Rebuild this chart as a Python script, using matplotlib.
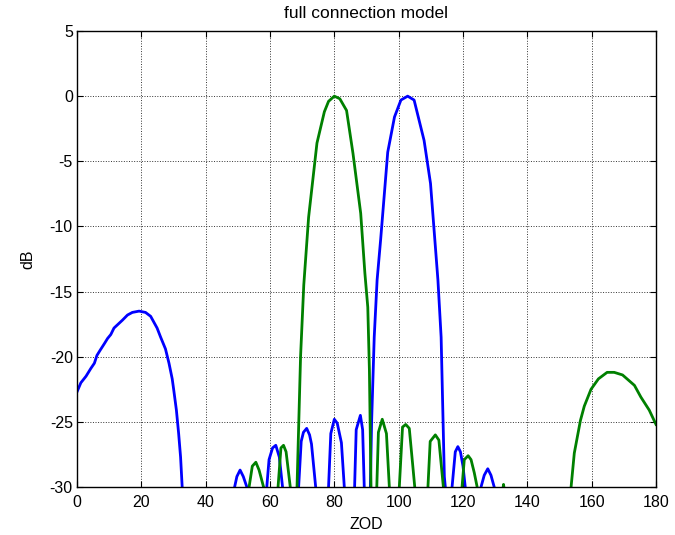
import matplotlib
matplotlib.use("Agg")
import matplotlib.pyplot as plt

# beam pattern (ZOD in degrees, gain in dB)
# values below -30 dB are nulls that fall under the axis floor
blue_x = [0, 1.2, 2.8, 4.3, 5.4, 6.2, 7.2, 8.5, 9.5, 10.5, 11.5, 12.8, 14.1, 15.7, 17.2,
          19.3, 21.3, 22.9, 24.9, 26.0, 27.5, 28.6, 29.6, 30.1, 30.9, 31.6, 32.2, 32.7,
          40.0,
          49.0, 49.7, 50.7, 51.7, 52.8,
          55.9,
          59.0, 59.7, 60.8, 61.8, 62.9, 63.9,
          66.4,
          68.9, 69.7, 70.4, 71.4, 72.3, 72.9, 74.2,
          76.2,
          78.2, 78.9, 80.0, 80.9, 82.2, 83.1,
          84.7,
          86.3, 86.8, 88.1, 88.8, 89.3,
          90.3,
          91.2, 91.6, 92.4, 93.3, 94.4, 96.6, 98.7, 100.7, 102.8, 104.8, 107.9, 109.9,
          112.2, 113.2, 114.2, 114.5,
          115.5,
          116.6, 117.6, 118.4, 119.2, 120.0, 120.7,
          123.0,
          125.6, 126.6, 127.7, 128.7, 129.7,
          135.0, 150.0, 165.0, 180.0]
blue_y = [-22.7, -22.0, -21.5, -20.9, -20.5, -19.9, -19.5, -19.0, -18.6, -18.3, -17.8, -17.5, -17.2, -16.8, -16.6,
          -16.5, -16.6, -16.9, -17.8, -18.5, -19.4, -20.5, -21.7, -22.6, -24.1, -25.9, -27.7, -30.0,
          -45.0,
          -30.0, -29.2, -28.7, -29.2, -30.0,
          -45.0,
          -30.0, -27.9, -27.0, -26.8, -27.7, -30.0,
          -45.0,
          -30.0, -26.5, -25.8, -25.5, -26.0, -26.7, -30.0,
          -45.0,
          -30.0, -25.9, -24.8, -25.1, -26.6, -30.0,
          -45.0,
          -30.0, -25.6, -24.5, -25.6, -30.0,
          -45.0,
          -30.0, -24.9, -18.5, -14.1, -11.0, -4.3, -1.6, -0.3, 0.0, -0.3, -3.4, -6.7,
          -14.1, -18.5, -29.2, -30.0,
          -45.0,
          -30.0, -27.3, -26.9, -27.3, -28.4, -30.0,
          -45.0,
          -30.0, -29.1, -28.6, -29.1, -30.0,
          -40.0, -42.0, -40.0, -44.0]

green_x = [0, 30.0, 51.0,
           53.5, 54.5, 55.6, 56.6, 58.0,
           60.2,
           62.5, 63.4, 64.2, 65.0, 66.3,
           67.4,
           68.4, 69.5, 70.5, 72.0, 74.6, 76.9, 78.2, 80.0, 81.7, 83.8, 85.8, 88.2,
           89.5, 90.4, 90.9, 91.4,
           92.2,
           93.2, 93.7, 94.9, 96.2, 97.1,
           98.6,
           100.2, 101.2, 102.2, 103.3, 104.4, 105.0,
           107.0,
           109.1, 109.8, 111.4, 112.5, 113.9,
           116.8,
           119.7, 120.4, 121.6, 122.5, 123.5, 124.4,
           128.0,
           132.2, 132.6, 133.0,
           140.0, 150.0,
           153.6, 154.6, 156.5, 157.7, 159.8, 162.1, 164.8, 167.0, 169.6, 173.3, 175.3,
           177.9, 180.0]
green_y = [-40.0, -42.0, -45.0,
           -30.0, -28.4, -28.1, -28.7, -30.0,
           -45.0,
           -30.0, -27.0, -26.8, -27.3, -30.0,
           -45.0,
           -30.0, -20.0, -14.5, -9.3, -3.6, -1.2, -0.4, 0.0, -0.2, -1.1, -4.4, -9.0,
           -13.6, -16.2, -21.0, -30.0,
           -45.0,
           -30.0, -25.8, -24.8, -25.9, -30.0,
           -45.0,
           -30.0, -25.4, -25.2, -25.5, -28.4, -30.0,
           -45.0,
           -30.0, -26.5, -26.0, -26.4, -30.0,
           -45.0,
           -30.0, -27.9, -27.6, -27.9, -28.9, -30.0,
           -45.0,
           -30.5, -29.8, -30.5,
           -45.0, -40.0,
           -30.0, -27.4, -24.9, -23.8, -22.5, -21.7, -21.2, -21.2, -21.4, -22.2, -23.1,
           -24.1, -25.2]

x_ticks = list(range(0, 181, 20))
y_ticks = list(range(-30, 6, 5))

plt.rcParams["font.family"] = ["Liberation Sans", "DejaVu Sans"]
plt.rcParams["axes.unicode_minus"] = False

W, H = 675, 535
fig = plt.figure(figsize=(W / 100, H / 100), dpi=100)
fig.patch.set_facecolor("white")
ax = fig.add_axes([77 / W, 1 - 487 / H, (656 - 77) / W, (487 - 31) / H])

ax.plot(blue_x, blue_y, color="#0000ff", lw=2.0)
ax.plot(green_x, green_y, color="#008000", lw=2.0)

ax.set_xlim(0, 180)
ax.set_ylim(-30, 5)
ax.set_xticks(x_ticks)
ax.set_yticks(y_ticks)
ax.grid(True, color="#333333", ls=":", lw=0.7)
ax.set_axisbelow(True)

ax.tick_params(direction="in", top=True, right=True, length=4, width=0.8,
               labelsize=11.5, colors="black")
ax.tick_params(axis="x", pad=6)
ax.tick_params(axis="y", pad=3)
for s in ax.spines.values():
    s.set_linewidth(1.0)

ax.set_title("full connection model", fontsize=12.5, pad=9)
ax.set_xlabel("ZOD", fontsize=11.5, labelpad=5)
ax.set_ylabel("dB", fontsize=11.5, labelpad=10)

fig.savefig("out.png", dpi=100)
plt.close(fig)
